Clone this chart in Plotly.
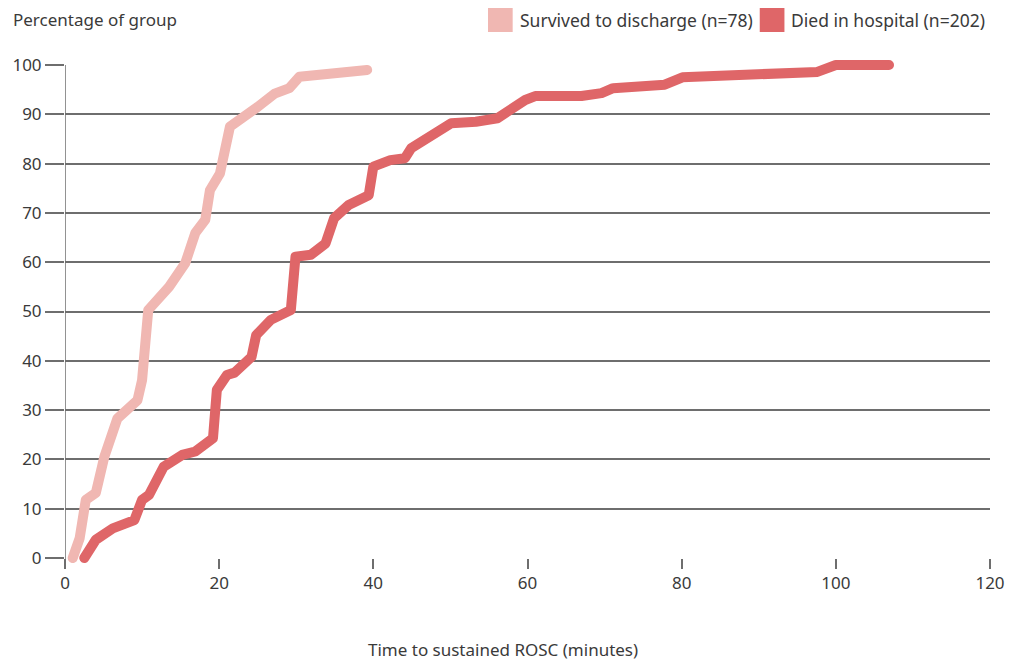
import plotly.graph_objects as go

# Cumulative percentage of each group achieving sustained ROSC by time (minutes)
survived_time = [1.0, 1.9, 2.7, 4.0, 5.1, 6.8, 9.4, 10.0, 10.8, 13.5, 15.6, 16.9, 18.2, 18.8,
                 20.1, 21.4, 25.0, 27.2, 29.1, 30.4, 39.2]
survived_pct = [0, 4, 11.8, 13.2, 20.5, 28.3, 32, 36.1, 50.3, 55, 59.8, 65.9, 68.6, 74.6,
                78, 87.5, 91.5, 94.2, 95.3, 97.6, 99]

died_time = [2.5, 4.0, 6.2, 9.0, 10.0, 10.9, 12.8, 15.2, 16.9, 19.2, 19.7, 21.0, 22.0, 24.2,
             24.8, 26.7, 29.3, 29.9, 31.9, 33.8, 34.9, 36.8, 39.4, 40.0, 42.2, 44.1, 44.9,
             50.1, 53.3, 56.1, 59.7, 61.0, 67.0, 69.6, 71.1, 77.8, 80.1, 97.6, 100.0, 106.9]
died_pct = [0, 3.7, 6, 7.7, 11.8, 12.8, 18.5, 20.9, 21.6, 24.3, 34.1, 37.1, 37.6, 40.8,
            45.2, 48.3, 50.3, 61.1, 61.5, 63.8, 68.9, 71.6, 73.6, 79.4, 80.7, 81.1, 83.1,
            88.2, 88.5, 89.2, 92.9, 93.7, 93.7, 94.3, 95.3, 96, 97.5, 98.6, 100, 100]

x_ticks = [0, 20, 40, 60, 80, 100, 120]
y_ticks = [0, 10, 20, 30, 40, 50, 60, 70, 80, 90, 100]

series_names = ["Survived to discharge (n=78)", "Died in hospital (n=202)"]
series_colors = ["#F0B7B2", "#DF6668"]

FONT = "Noto Sans"
TEXT = "#3a3a3a"
GRID = "#6e6e6e"
TICK_SIZE = 17
LABEL_SIZE = 17

fig = go.Figure()
for xs, ys, name, col in [(survived_time, survived_pct, series_names[0], series_colors[0]),
                          (died_time, died_pct, series_names[1], series_colors[1])]:
    fig.add_trace(go.Scatter(x=xs, y=ys, mode="lines", name=name,
                             line=dict(color=col, width=10), showlegend=False,
                             hoverinfo="skip"))

# Plot area geometry (pixels)
W, H = 1017, 661
L, R, T, B = 62, 19, 65, 103
pw, ph = W - L - R, H - T - B


def px_x(p):
    return (p - L) / pw


def px_y(p):
    return (H - B - p) / ph


fig.update_layout(
    width=W, height=H,
    margin=dict(l=L, r=R, t=T, b=B, pad=0),
    paper_bgcolor="white", plot_bgcolor="white",
    font=dict(family=FONT, size=TICK_SIZE, color=TEXT),
    xaxis=dict(range=[0, 120], tickvals=x_ticks, showgrid=False, zeroline=False,
               showline=False, ticks="outside", ticklen=10, tickwidth=1.5,
               tickcolor=GRID, tickfont=dict(size=TICK_SIZE, color=TEXT)),
    yaxis=dict(range=[0, 100], tickvals=y_ticks, showgrid=True, gridcolor=GRID,
               gridwidth=1.5, zeroline=False, showline=False, ticks="outside",
               ticklen=19, tickwidth=1.5, tickcolor=GRID,
               tickfont=dict(size=TICK_SIZE, color=TEXT)),
    shapes=[
        # vertical axis line, extended down as the 0 tick
        dict(type="line", xref="x", yref="paper", x0=0, x1=0, y0=px_y(568), y1=1,
             line=dict(color=GRID, width=1.5)),
        # legend swatches
        dict(type="rect", xref="paper", yref="paper", x0=px_x(490), x1=px_x(515),
             y0=px_y(32), y1=px_y(8), line=dict(width=0), fillcolor=series_colors[0]),
        dict(type="rect", xref="paper", yref="paper", x0=px_x(765), x1=px_x(790),
             y0=px_y(32), y1=px_y(8), line=dict(width=0), fillcolor=series_colors[1]),
    ],
    annotations=[
        dict(text="Percentage of group", xref="paper", yref="paper", x=px_x(7),
             y=px_y(20), xanchor="left", yanchor="middle", showarrow=False,
             font=dict(size=LABEL_SIZE, color=TEXT)),
        dict(text=series_names[0], xref="paper", yref="paper", x=px_x(520),
             y=px_y(20), xanchor="left", yanchor="middle", showarrow=False,
             font=dict(size=17.5, color=TEXT)),
        dict(text=series_names[1], xref="paper", yref="paper", x=px_x(795),
             y=px_y(20), xanchor="left", yanchor="middle", showarrow=False,
             font=dict(size=17.5, color=TEXT)),
        dict(text="Time to sustained ROSC (minutes)", xref="paper", yref="paper",
             x=px_x(505), y=px_y(649), xanchor="center", yanchor="middle",
             showarrow=False, font=dict(size=LABEL_SIZE, color=TEXT)),
    ],
)

# Rounded joins/caps for the thick lines, and let them spill past the plot edges
post = """
document.querySelectorAll('.cartesianlayer [clip-path]').forEach(function(e){
  e.removeAttribute('clip-path');
});
document.querySelectorAll('.scatterlayer path.js-line').forEach(function(p){
  p.style.strokeLinejoin = 'round';
  p.style.strokeLinecap = 'round';
});
"""

fig.write_html("out.html", post_script=post)
